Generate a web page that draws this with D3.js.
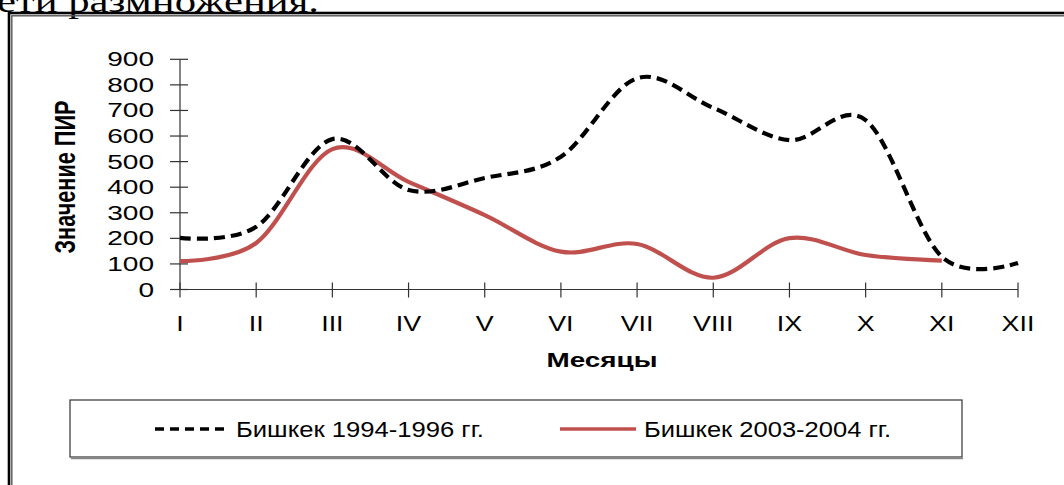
<!DOCTYPE html>
<html><head><meta charset="utf-8">
<script src="https://cdn.jsdelivr.net/npm/d3@7/dist/d3.min.js"></script>
<style>body{margin:0;background:#fff;overflow:hidden}svg{display:block}</style>
</head><body>
<svg id="c" width="1064" height="485"></svg>
<script>
const months = ["I","II","III","IV","V","VI","VII","VIII","IX","X","XI","XII"];
const bishkek1994 = [202,245,588,389,436,519,826,710,584,662,128,104];
const bishkek2003 = [111,182,549,421,291,148,178,46,201,135,113,null];
const yTicks = [0,100,200,300,400,500,600,700,800,900];
const seriesNames = ["Бишкек 1994-1996 гг.","Бишкек 2003-2004 гг."];
const yTitle = "Значение ПИР";
const xTitle = "Месяцы";
const topText = "ети размножения.";

const svg = d3.select("#c");
const sans = "'Liberation Sans', Arial, sans-serif";

// top cut text
svg.append("text").attr("x",-3).attr("y",12).attr("font-family","'Liberation Serif', 'Times New Roman', serif")
  .attr("font-size",32).attr("fill","#000").attr("textLength",322).attr("lengthAdjust","spacingAndGlyphs").text(topText);

// frame
svg.append("rect").attr("x",9).attr("y",13).attr("width",1200).attr("height",600).attr("fill","none").attr("stroke","#000").attr("stroke-width",2.6);
svg.append("rect").attr("x",11.8).attr("y",15.8).attr("width",1200).attr("height",600).attr("fill","none").attr("stroke","#555").attr("stroke-width",1.4);

const x = d3.scalePoint().domain(months).range([180,1018]);
const y = d3.scaleLinear().domain([0,900]).range([289.5,59.3]);

const axisColor = "#333";
// y axis
svg.append("line").attr("x1",x("I")).attr("x2",x("I")).attr("y1",y(0)).attr("y2",y(900)).attr("stroke",axisColor).attr("stroke-width",1.2);
svg.selectAll(".yt").data(yTicks).join("line").attr("x1",x("I")-10).attr("x2",x("I")+8)
  .attr("y1",d=>y(d)).attr("y2",d=>y(d)).attr("stroke",axisColor).attr("stroke-width",1.2);
svg.selectAll(".yl").data(yTicks).join("text").attr("x",154).attr("y",d=>y(d)+7)
  .attr("text-anchor","end").attr("font-family",sans).attr("font-size",20).attr("fill","#000")
  .attr("textLength",d=>String(d).length*15.6).attr("lengthAdjust","spacingAndGlyphs").text(d=>d);
// x axis
svg.append("line").attr("x1",x("I")).attr("x2",x("XII")).attr("y1",y(0)).attr("y2",y(0)).attr("stroke",axisColor).attr("stroke-width",1.2);
svg.selectAll(".xt").data(months).join("line").attr("x1",d=>x(d)).attr("x2",d=>x(d))
  .attr("y1",y(0)-7).attr("y2",y(0)+8).attr("stroke",axisColor).attr("stroke-width",1.2);
const xl = svg.selectAll(".xl").data(months).join("text").attr("x",d=>x(d)).attr("y",331)
  .attr("text-anchor","middle").attr("font-family",sans).attr("font-size",22).attr("fill","#000").text(d=>d);
xl.each(function(){ const w=this.getComputedTextLength(); d3.select(this).attr("textLength",w*1.22).attr("lengthAdjust","spacingAndGlyphs"); });

// titles
svg.append("text").attr("x",602).attr("y",367).attr("text-anchor","middle").attr("font-family",sans)
  .attr("font-weight","bold").attr("font-size",20).attr("textLength",111).attr("lengthAdjust","spacingAndGlyphs").text(xTitle);
svg.append("g").attr("transform","translate(75,177) scale(1.45,1) rotate(-90)")
  .append("text").attr("x",0).attr("y",0).attr("text-anchor","middle").attr("font-family",sans)
  .attr("font-weight","bold").attr("font-size",20).attr("textLength",153).attr("lengthAdjust","spacingAndGlyphs").text(yTitle);

// lines
const line = d3.line().defined(d=>d.v!=null).x(d=>x(d.m)).y(d=>y(d.v)).curve(d3.curveCardinal.tension(0));
const d1 = months.map((m,i)=>({m,v:bishkek1994[i]}));
const d2 = months.map((m,i)=>({m,v:bishkek2003[i]})).filter(d=>d.v!=null);
svg.append("path").attr("d",line(d2)).attr("fill","none").attr("stroke","#C0504D").attr("stroke-width",4.2);
svg.append("path").attr("d",line(d1)).attr("fill","none").attr("stroke","#000").attr("stroke-width",4.2).attr("stroke-dasharray","11,6");

// legend
svg.append("rect").attr("x",70).attr("y",400).attr("width",892).attr("height",57).attr("fill","#fff").attr("stroke","#333").attr("stroke-width",1.2);
svg.append("line").attr("x1",71).attr("x2",963).attr("y1",458.5).attr("y2",458.5).attr("stroke","#888").attr("stroke-width",1.5);
const leg = [{x1:155,x2:228,tx:236,tl:248,c:"#000",dash:"9,6"},{x1:560,x2:636,tx:644,tl:247,c:"#C0504D",dash:null}];
leg.forEach((l,i)=>{
  svg.append("line").attr("x1",l.x1).attr("x2",l.x2).attr("y1",429).attr("y2",429).attr("stroke",l.c).attr("stroke-width",3.5).attr("stroke-dasharray",l.dash);
  svg.append("text").attr("x",l.tx).attr("y",437).attr("font-family",sans).attr("font-size",22).attr("fill","#000")
    .attr("textLength",l.tl).attr("lengthAdjust","spacingAndGlyphs").text(seriesNames[i]);
});
</script>
</body></html>
